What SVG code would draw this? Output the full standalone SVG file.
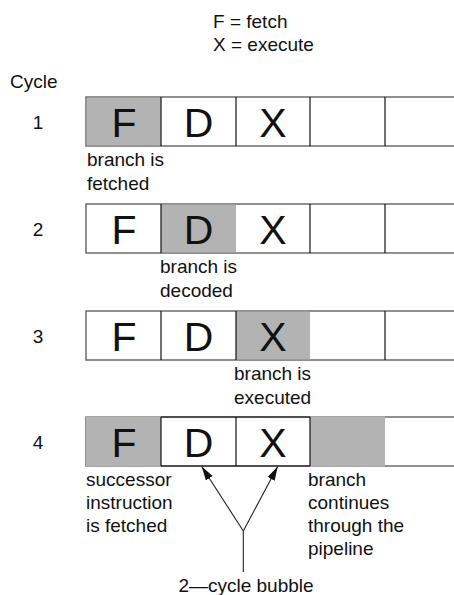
<svg xmlns="http://www.w3.org/2000/svg" width="454" height="595" viewBox="0 0 454 595">
<defs>
<style>
text{font-family:"Liberation Sans",Arial,sans-serif;fill:#111;}
.lab{font-size:19px;}
.big{font-size:41px;text-anchor:middle;}
.num{font-size:19px;text-anchor:middle;}
.frame{fill:#fff;stroke:#555;stroke-width:1.3;}
.sh{fill:#b3b3b3;}
.div{stroke:#111;stroke-width:1.2;}
.con{stroke:#222;stroke-width:1.1;fill:none;}
</style>
<marker id="ah" viewBox="0 0 14 10" refX="14" refY="5" markerWidth="14" markerHeight="10" markerUnits="userSpaceOnUse" orient="auto">
<path d="M0,1 L14,5 L0,9 Z" fill="#111"/>
</marker>
</defs>
<rect width="454" height="595" fill="#fff"/>
<g id="legend">
<text class="lab" x="213" y="28">F = fetch</text>
<text class="lab" x="213" y="51">X = execute</text>
<text class="lab" x="10" y="88">Cycle</text>
</g>
<g id="row1">
<rect class="frame" x="86" y="97" width="380" height="49"/>
<rect class="sh" x="86.7" y="97.7" width="74" height="47.6"/>
<line class="div" x1="161" y1="97" x2="161" y2="146"/>
<line class="div" x1="236" y1="97" x2="236" y2="146"/>
<line class="div" x1="310" y1="97" x2="310" y2="146"/>
<line class="div" x1="385" y1="97" x2="385" y2="146"/>
<text class="num" x="38" y="129">1</text>
<text class="big" x="124" y="137">F</text>
<text class="big" x="198.5" y="137">D</text>
<text class="big" x="273" y="137">X</text>
<text class="lab" x="87" y="166">branch is</text>
<text class="lab" x="87" y="190">fetched</text>
</g>
<g id="row2">
<rect class="frame" x="86" y="204" width="380" height="49"/>
<rect class="sh" x="161" y="204.7" width="75" height="47.6"/>
<line class="div" x1="161" y1="204" x2="161" y2="253"/>
<line class="div" x1="310" y1="204" x2="310" y2="253"/>
<line class="div" x1="385" y1="204" x2="385" y2="253"/>
<text class="num" x="38" y="236">2</text>
<text class="big" x="124" y="244">F</text>
<text class="big" x="198.5" y="244">D</text>
<text class="big" x="273" y="244">X</text>
<text class="lab" x="160" y="273">branch is</text>
<text class="lab" x="160" y="297">decoded</text>
</g>
<g id="row3">
<rect class="frame" x="86" y="311" width="380" height="49"/>
<rect class="sh" x="236" y="311.7" width="74" height="47.6"/>
<line class="div" x1="161" y1="311" x2="161" y2="360"/>
<line class="div" x1="236" y1="311" x2="236" y2="360"/>
<line class="div" x1="385" y1="311" x2="385" y2="360"/>
<text class="num" x="38" y="343">3</text>
<text class="big" x="124" y="351">F</text>
<text class="big" x="198.5" y="351">D</text>
<text class="big" x="273" y="351">X</text>
<text class="lab" x="234" y="380">branch is</text>
<text class="lab" x="234" y="404">executed</text>
</g>
<g id="row4">
<rect class="frame" x="86" y="417" width="380" height="49"/>
<rect class="sh" x="86" y="416.4" width="75" height="50.2"/>
<rect class="sh" x="310" y="416.4" width="75" height="50.2"/>
<line class="div" x1="161" y1="417" x2="161" y2="466"/>
<line class="div" x1="236" y1="417" x2="236" y2="466"/>
<line class="div" x1="161" y1="417" x2="310" y2="417"/>
<line class="div" x1="161" y1="466" x2="310" y2="466"/>
<line class="div" x1="310" y1="417" x2="310" y2="466"/>
<text class="num" x="38" y="449">4</text>
<text class="big" x="124" y="457">F</text>
<text class="big" x="198.5" y="457">D</text>
<text class="big" x="273" y="457">X</text>
<text class="lab" x="86" y="486">successor</text>
<text class="lab" x="86" y="509">instruction</text>
<text class="lab" x="86" y="532">is fetched</text>
<text class="lab" x="308" y="486">branch</text>
<text class="lab" x="308" y="509">continues</text>
<text class="lab" x="308" y="532">through the</text>
<text class="lab" x="308" y="555">pipeline</text>
</g>
<g id="connectors">
<line class="con" x1="243.3" y1="531" x2="201.7" y2="466.5" marker-end="url(#ah)"/>
<line class="con" x1="243.3" y1="531" x2="277.7" y2="466.5" marker-end="url(#ah)"/>
<line class="con" x1="243.3" y1="531" x2="243.3" y2="572"/>
</g>
<g id="bubble">
<text class="lab" x="246" y="592" text-anchor="middle">2—cycle bubble</text>
</g>
</svg>
